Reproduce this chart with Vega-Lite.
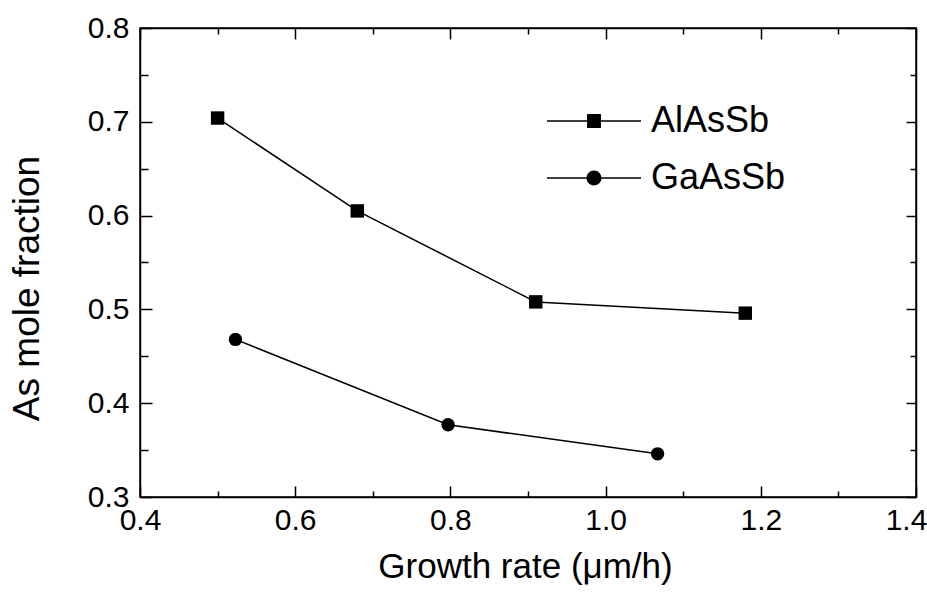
{
  "$schema": "https://vega.github.io/schema/vega-lite/v6.json",
  "width": 776,
  "height": 469,
  "autosize": {"type": "none"},
  "padding": {"left": 140, "top": 28, "right": 11, "bottom": 96},
  "background": "white",
  "config": {
    "view": {"stroke": "black", "strokeWidth": 1.5},
    "font": "Liberation Sans",
    "axis": {
      "domainColor": "black",
      "domainWidth": 1.5,
      "tickColor": "black",
      "tickWidth": 1.5,
      "labelColor": "black",
      "titleColor": "black",
      "labelFont": "Liberation Sans",
      "titleFont": "Liberation Sans",
      "labelFontSize": 30,
      "titleFontSize": 35,
      "titleFontWeight": "normal",
      "grid": false,
      "labelOverlap": false,
      "labelFlush": false,
      "labelBound": false
    }
  },
  "data": {
    "values": [
      {"series": "AlAsSb", "x": 0.5, "y": 0.704},
      {"series": "AlAsSb", "x": 0.68, "y": 0.605},
      {"series": "AlAsSb", "x": 0.91, "y": 0.508},
      {"series": "AlAsSb", "x": 1.18, "y": 0.496},
      {"series": "GaAsSb", "x": 0.523, "y": 0.468},
      {"series": "GaAsSb", "x": 0.797, "y": 0.377},
      {"series": "GaAsSb", "x": 1.067, "y": 0.346}
    ]
  },
  "layer": [
    {
      "mark": {"type": "line", "color": "black", "strokeWidth": 1.5},
      "encoding": {
        "x": {
          "field": "x", "type": "quantitative",
          "scale": {"domain": [0.4, 1.4], "nice": false, "zero": false},
          "axis": {
            "title": "Growth rate (μm/h)",
            "titlePadding": 9,
            "titleX": 385,
            "values": [0.4, 0.5, 0.6, 0.7, 0.8, 0.9, 1.0, 1.1, 1.2, 1.3, 1.4],
            "labelExpr": "abs(datum.value*5 - round(datum.value*5)) < 0.01 ? format(datum.value, '.1f') : ''",
            "labelOffset": {"condition": {"test": "datum.value > 1.35", "value": -10}, "value": 0},
            "tickSize": {"condition": {"test": "abs(datum.value*5 - round(datum.value*5)) < 0.01", "value": -11}, "value": -6},
            "labelPadding": 19
          }
        },
        "y": {
          "field": "y", "type": "quantitative",
          "scale": {"domain": [0.3, 0.8], "nice": false, "zero": false},
          "axis": {
            "title": "As mole fraction",
            "titleFontSize": 37,
            "titleX": -113,
            "titleY": 260,
            "titleBaseline": "middle",
            "titleAlign": "center",
            "titleAngle": -90,
            "values": [0.3, 0.35, 0.4, 0.45, 0.5, 0.55, 0.6, 0.65, 0.7, 0.75, 0.8],
            "labelExpr": "abs(datum.value*10 - round(datum.value*10)) < 0.01 ? format(datum.value, '.1f') : ''",
            "tickSize": {"condition": {"test": "abs(datum.value*10 - round(datum.value*10)) < 0.01", "value": -12}, "value": -8},
            "labelPadding": 23
          }
        },
        "detail": {"field": "series"}
      }
    },
    {
      "mark": {"type": "point", "filled": true, "color": "black", "opacity": 1, "size": 180},
      "encoding": {
        "x": {
          "field": "x", "type": "quantitative",
          "axis": {
            "orient": "top", "title": null, "labels": false,
            "values": [0.4, 0.5, 0.6, 0.7, 0.8, 0.9, 1.0, 1.1, 1.2, 1.3, 1.4],
            "tickSize": {"condition": {"test": "abs(datum.value*5 - round(datum.value*5)) < 0.01", "value": -11}, "value": -6}
          }
        },
        "y": {
          "field": "y", "type": "quantitative",
          "axis": {
            "orient": "right", "title": null, "labels": false,
            "values": [0.3, 0.35, 0.4, 0.45, 0.5, 0.55, 0.6, 0.65, 0.7, 0.75, 0.8],
            "tickSize": {"condition": {"test": "abs(datum.value*10 - round(datum.value*10)) < 0.01", "value": -10}, "value": -6}
          }
        },
        "shape": {
          "field": "series", "type": "nominal",
          "scale": {"domain": ["AlAsSb", "GaAsSb"], "range": ["square", "circle"]},
          "legend": null
        }
      }
    },
    {
      "mark": {"type": "point", "filled": true, "color": "black", "opacity": 0},
      "encoding": {
        "x": {"field": "x", "type": "quantitative", "axis": null},
        "y": {"field": "y", "type": "quantitative", "axis": null},
        "shape": {
          "field": "series", "type": "nominal",
          "scale": {
            "domain": ["AlAsSb", "GaAsSb"],
            "range": [
              "M-1.96,-0.035H1.96V0.035H-1.96Z M-0.29,-0.29H0.29V0.29H-0.29Z",
              "M-1.96,-0.035H1.96V0.035H-1.96Z M0.31,0 A0.31,0.31 0 1,1 -0.31,0 A0.31,0.31 0 1,1 0.31,0 Z"
            ]
          },
          "legend": {
            "orient": "none",
            "legendX": 430,
            "legendY": 69,
            "title": null,
            "symbolSize": 2304,
            "labelFontSize": 36,
            "labelFont": "Liberation Sans",
            "labelColor": "black",
            "labelOffset": 33,
            "rowPadding": 15,
            "padding": 0,
            "symbolFillColor": "black",
            "symbolStrokeColor": "black",
            "symbolStrokeWidth": 0,
            "symbolOpacity": 1,
            "labelLimit": 300
          }
        }
      }
    }
  ],
  "resolve": {
    "scale": {"shape": "independent"},
    "axis": {"x": "independent", "y": "independent"}
  }
}
